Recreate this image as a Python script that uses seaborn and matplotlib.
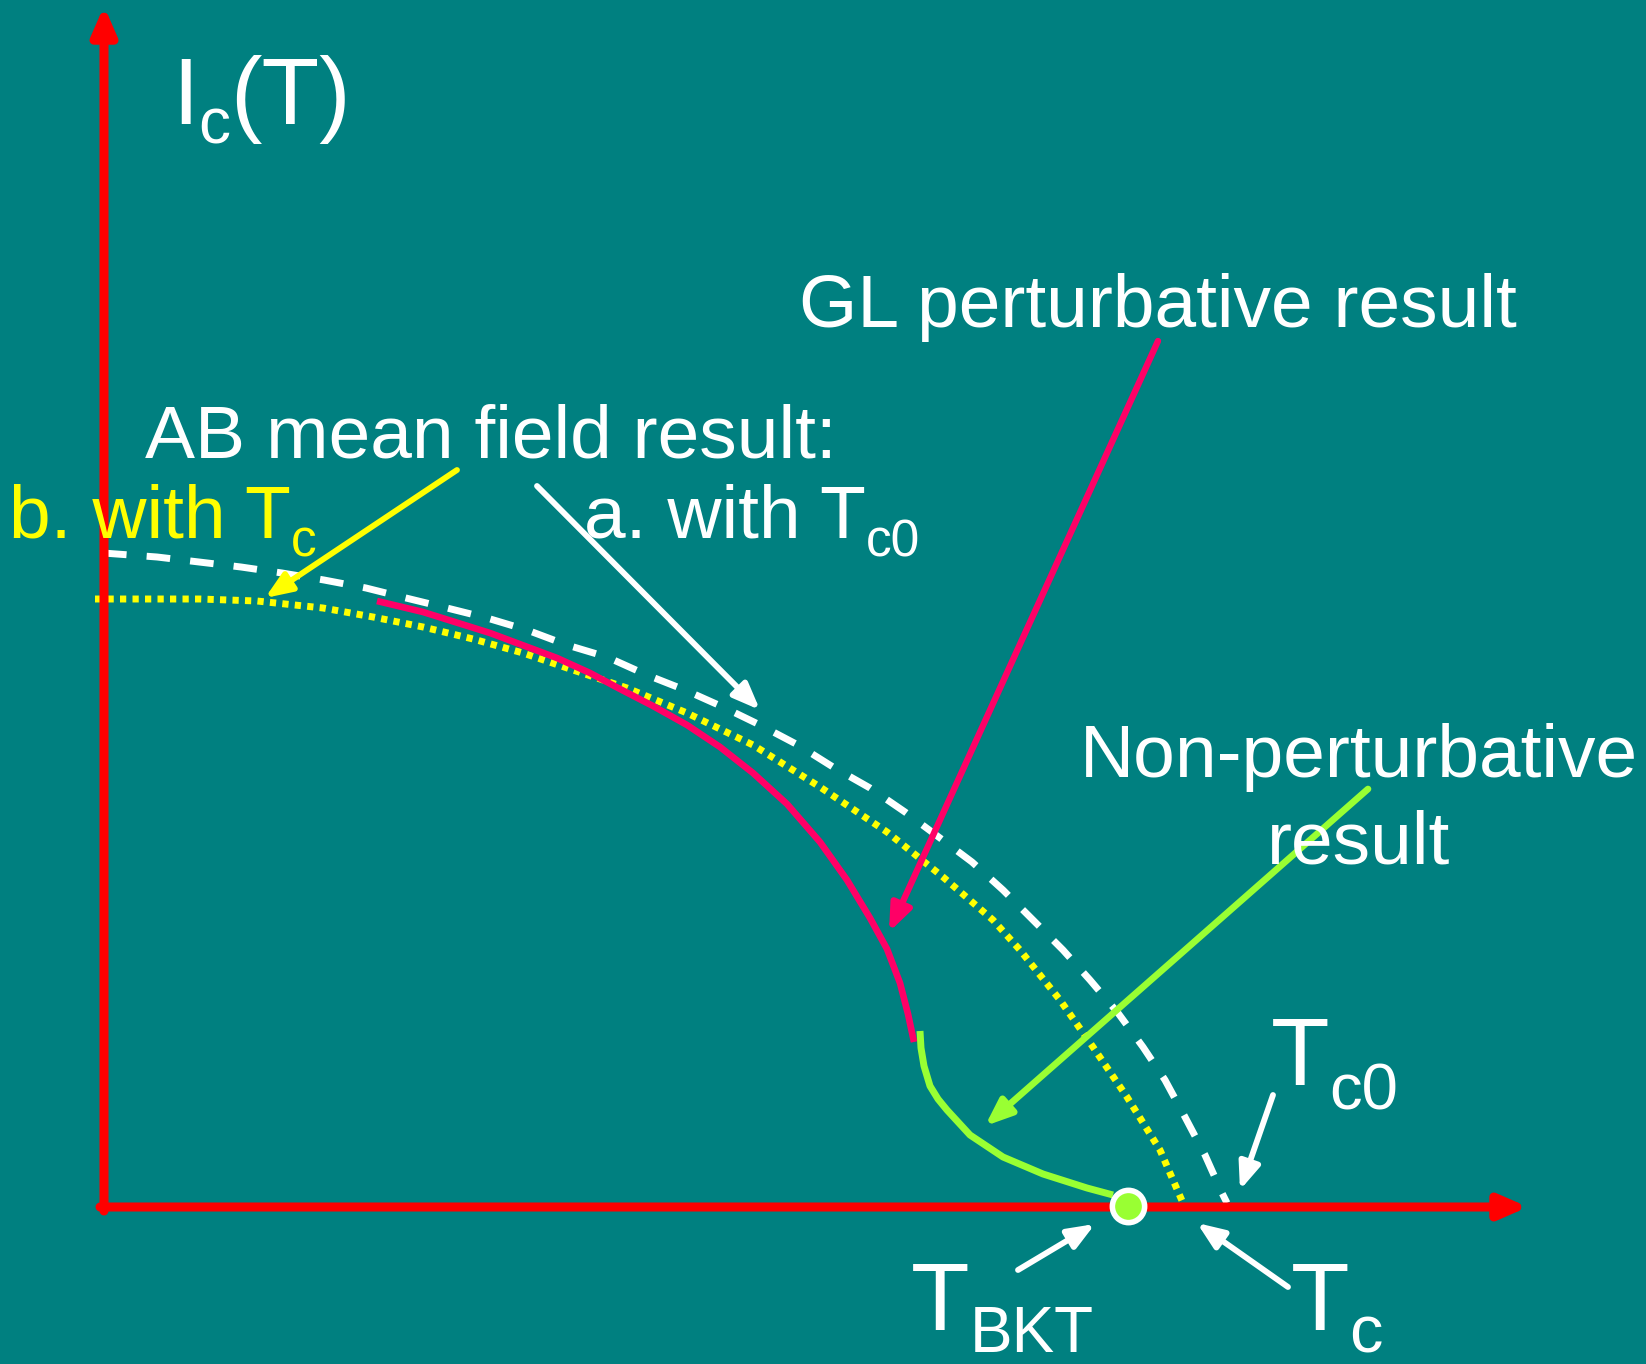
import matplotlib
matplotlib.use("Agg")
import matplotlib.pyplot as plt
import seaborn as sns
import pandas as pd

# curves, in pixels of the 1646x1364 image
tc0_x = [103, 157, 199, 241, 282, 324, 366, 406, 447, 487, 527, 567, 607, 647, 685, 723, 760,
         798, 833, 870, 905, 940, 972, 1003, 1033, 1063, 1090, 1118, 1143, 1165, 1185, 1205, 1222, 1227]
tc0_y = [553, 557, 562, 567, 573, 580, 588, 598, 608, 618, 630, 645, 657, 675, 690, 707, 725,
         745, 767, 788, 812, 838, 862, 890, 920, 950, 980, 1013, 1047, 1080, 1117, 1155, 1193, 1203]

tc_x = [95, 150, 200, 257, 323, 373, 423, 473, 523, 573, 627, 687, 753, 820, 887, 943, 993,
        1020, 1060, 1093, 1127, 1160, 1183]
tc_y = [599, 599, 599, 601, 608, 617, 627, 639, 653, 670, 688, 713, 745, 787, 832, 877, 920,
        950, 1000, 1047, 1097, 1150, 1203]

gl_x = [377, 423, 490, 557, 590, 620, 653, 687, 720, 753, 787, 820, 847, 870, 887, 900, 908, 914]
gl_y = [601, 612, 633, 658, 673, 689, 706, 725, 747, 773, 804, 842, 880, 918, 949, 983, 1014, 1042]

np_x = [920, 921, 924, 930, 938, 947, 970, 1003, 1043, 1087, 1113]
np_y = [1031, 1048, 1066, 1086, 1099, 1110, 1135, 1157, 1174, 1188, 1195]

bkt_x = [1128]
bkt_y = [1206]

sns.set_style("white")
plt.rcParams["font.family"] = ["Liberation Sans", "DejaVu Sans"]

BG = "#008080"
RED = "#FF0000"
MAG = "#FF0066"
GRN = "#99FF33"
YEL = "#FFFF00"

fig = plt.figure(figsize=(16.46, 13.64), dpi=100, facecolor=BG)
ax = fig.add_axes([0, 0, 1, 1])
ax.set_facecolor(BG)

# axes with arrow heads
for tip, start in [((104, 6), (104, 1211)), ((1528, 1207), (100, 1207))]:
    ax.annotate("", xy=tip, xytext=start,
                arrowprops=dict(arrowstyle="-|>,head_length=0.55,head_width=0.24", color=RED,
                                lw=6.5, mutation_scale=30, shrinkA=0, shrinkB=0))

# curves
d = pd.DataFrame({"x": tc0_x, "y": tc0_y})
sns.lineplot(data=d, x="x", y="y", ax=ax, sort=False, estimator=None, color="white",
             linewidth=5.0, linestyle=(0, (3.4, 2.9)))
d = pd.DataFrame({"x": tc_x, "y": tc_y})
sns.lineplot(data=d, x="x", y="y", ax=ax, sort=False, estimator=None, color=YEL,
             linewidth=5.0, linestyle=(0, (0.9, 0.9)))
d = pd.DataFrame({"x": gl_x, "y": gl_y})
sns.lineplot(data=d, x="x", y="y", ax=ax, sort=False, estimator=None, color=MAG,
             linewidth=4.8, solid_joinstyle="round", solid_capstyle="butt")
d = pd.DataFrame({"x": np_x, "y": np_y})
sns.lineplot(data=d, x="x", y="y", ax=ax, sort=False, estimator=None, color=GRN,
             linewidth=5.0, solid_joinstyle="round", solid_capstyle="butt")
sns.scatterplot(x=bkt_x, y=bkt_y, ax=ax, s=540, color=GRN, edgecolor="white",
                linewidth=4.0, zorder=5)

ax.set_xlim(0, 1646)
ax.set_ylim(1364, 0)
ax.axis("off")


def arrow(x0, y0, x1, y1, c, lw=4.2):
    ax.annotate("", xy=(x1, y1), xytext=(x0, y0),
                arrowprops=dict(arrowstyle="-|>,head_length=0.55,head_width=0.22", color=c,
                                lw=lw, mutation_scale=29, shrinkA=0, shrinkB=0))


arrow(457, 470, 265, 598, YEL)
arrow(537, 486, 760, 710, "white")
arrow(1158, 341, 889, 932, MAG, 4.6)
arrow(1368, 789, 985, 1126, GRN, 4.8)
arrow(1273, 1095, 1240, 1190, "white")
arrow(1018, 1270, 1095, 1224, "white")
arrow(1288, 1287, 1197, 1223, "white")


def label(x, y, base, sub, size, subsize, drop, color, tail=None):
    t = ax.text(x, y, base, fontsize=size, color=color, va="baseline")
    s = ax.annotate(sub, xy=(1, y), xycoords=(t, "data"), xytext=(0, -drop),
                    textcoords="offset points", fontsize=subsize, color=color, va="baseline")
    if tail:
        ax.annotate(tail, xy=(1, y), xycoords=(s, "data"), xytext=(0, 0),
                    textcoords="offset points", fontsize=size, color=color, va="baseline")


label(172, 124, "I", "c", 68, 46, 14, "white", tail="(T)")
ax.text(799, 327, "GL perturbative result", fontsize=54, color="white", va="baseline")
ax.text(145, 457, "AB mean field result:", fontsize=54, color="white", va="baseline")
label(9, 537, "b. with T", "c", 54, 37, 14, YEL)
label(584, 537, "a. with T", "c0", 54, 37, 14, "white")
ax.text(1359, 777, "Non-perturbative", fontsize=54, color="white", va="baseline", ha="center")
ax.text(1359, 863, "result", fontsize=54, color="white", va="baseline", ha="center")
label(1271, 1085, "T", "c0", 69, 47, 18, "white")
label(911, 1330, "T", "BKT", 69, 46, 16, "white")
label(1291, 1330, "T", "c", 69, 48, 16.5, "white")

fig.savefig("out.png", dpi=100, facecolor=BG)
